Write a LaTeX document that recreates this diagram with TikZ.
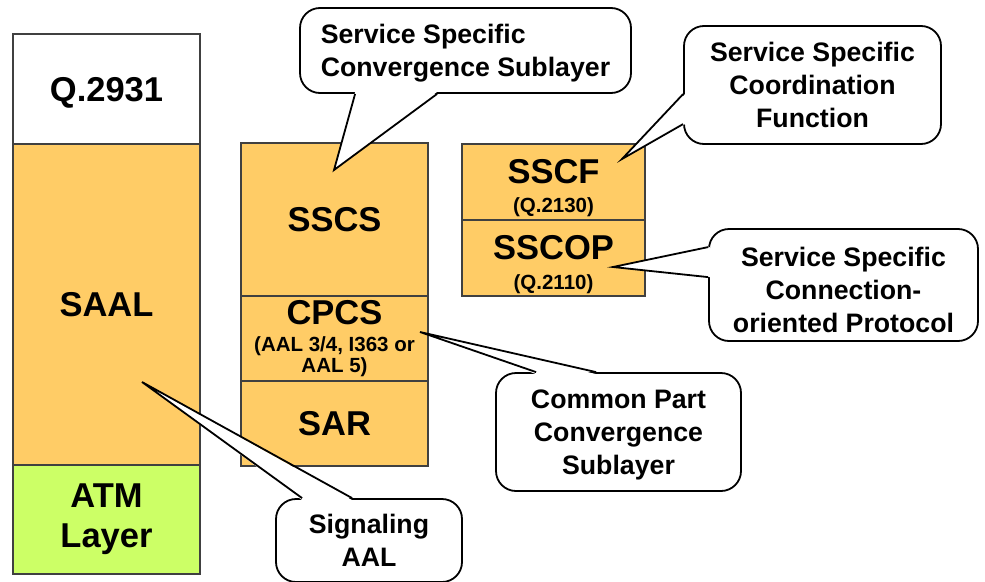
\documentclass[tikz,border=0pt]{standalone}
\usepackage{fontspec}
\setmainfont{Liberation Sans}
\usetikzlibrary{positioning}
\definecolor{saalorange}{HTML}{FFCC66}
\definecolor{atmgreen}{HTML}{CCFF66}
\definecolor{layerline}{HTML}{404040}
\newcommand\refsize{\fontsize{20.5}{21}\selectfont}
\newcommand\layertext[4][0pt]{\parbox{176pt}{\centering\vspace*{#1}#2\par\vspace{#3}\refsize #4\par}}
\tikzset {
layer/.style={shape=rectangle,draw=layerline,line width=1.2pt,fill=saalorange,inner sep=0pt,outer sep=0pt,align=center,font=\bfseries\fontsize{34.5}{36}\selectfont},
note/.style={shape=rectangle,rounded corners=20pt,draw,line width=1.8pt,fill=white,inner sep=0pt,text depth=0pt,align=center,font=\bfseries\fontsize{26.7}{33}\selectfont},
pointer/.style={line width=1.8pt,line join=miter}
}

\begin{document}
\begin{tikzpicture}
[x=1pt,y=-1pt]
\useasboundingbox (0,0) rectangle (985,581);
% left column
\node[layer,fill=white,minimum width=187pt,minimum height=110pt,text depth=0pt] (q2931) at (106.5,89) {Q.2931};
\node[layer,minimum width=187pt,minimum height=321pt] (saal) [below=0pt of q2931] {SAAL};
\node[layer,fill=atmgreen,minimum width=187pt,minimum height=109pt,font=\bfseries\fontsize{34.5}{40}\selectfont] (atm) [below=0pt of saal] {ATM\\Layer};
% middle column
\node[layer,minimum width=187pt,minimum height=153pt] (sscs) at (334.5,219.5) {SSCS};
\node[layer,minimum width=187pt,minimum height=85pt] (cpcs) [below=0pt of sscs] {\layertext{CPCS}{6pt}{(AAL 3/4, I363 or\\AAL 5)}};
\node[layer,minimum width=187pt,minimum height=85pt] (sar) [below=0pt of cpcs] {SAR};
% right column
\node[layer,minimum width=183pt,minimum height=76pt] (sscf) at (553.5,182) {\layertext[12pt]{SSCF}{8pt}{(Q.2130)}};
\node[layer,minimum width=183pt,minimum height=76pt] (sscop) [below=0pt of sscf] {\layertext[13pt]{SSCOP}{9pt}{(Q.2110)}};

% callouts
\node[note,align=left,minimum width=331pt,minimum height=85pt] (sscs note) at (465.5,50.5) {Service Specific\\Convergence Sublayer};
\node[note,minimum width=257pt,minimum height=118pt] (sscf note) at (812.5,85) {Service Specific\\Coordination\\Function};
\node[note,minimum width=269pt,minimum height=112pt,text height=94pt] (sscop note) at (843.5,285) {Service Specific\\Connection-\\oriented Protocol};
\node[note,minimum width=245pt,minimum height=118pt] (cpcs note) at (618.5,432) {Common Part\\Convergence\\Sublayer};
\node[note,minimum width=186pt,minimum height=83pt] (saal note) at (369,540.5) {Signaling\\AAL};

\coordinate (sscs tip) at (334,170);
\coordinate (sscf tip) at (622,159);
\coordinate (sscop tip) at (613,267);
\coordinate (cpcs tip) at (420,332);
\coordinate (saal tip) at (142,382);

\fill[white] ([xshift=56pt,yshift=2pt]sscs note.south west) -- (sscs tip) -- ([xshift=138pt,yshift=2pt]sscs note.south west) -- cycle;
\draw[pointer] ([xshift=56pt]sscs note.south west) -- (sscs tip) -- ([xshift=138pt]sscs note.south west);
\fill[white] ([xshift=2pt,yshift=-69pt]sscf note.north west) -- (sscf tip) -- ([xshift=2pt,yshift=-99pt]sscf note.north west) -- cycle;
\draw[pointer] ([yshift=-69pt]sscf note.north west) -- (sscf tip) -- ([yshift=-99pt]sscf note.north west);
\fill[white] ([xshift=2pt,yshift=-19pt]sscop note.north west) -- (sscop tip) -- ([xshift=2pt,yshift=-49pt]sscop note.north west) -- cycle;
\draw[pointer] ([yshift=-19pt]sscop note.north west) -- (sscop tip) -- ([yshift=-49pt]sscop note.north west);
\fill[white] ([xshift=41pt,yshift=-2pt]cpcs note.north west) -- (cpcs tip) -- ([xshift=101pt,yshift=-2pt]cpcs note.north west) -- cycle;
\draw[pointer] ([xshift=41pt]cpcs note.north west) -- (cpcs tip) -- ([xshift=101pt]cpcs note.north west);
\fill[white] ([xshift=27pt,yshift=-2pt]saal note.north west) -- (saal tip) -- ([xshift=77pt,yshift=-2pt]saal note.north west) -- cycle;
\draw[pointer] ([xshift=27pt]saal note.north west) -- (saal tip) -- ([xshift=77pt]saal note.north west);
\end{tikzpicture}
\end{document}
